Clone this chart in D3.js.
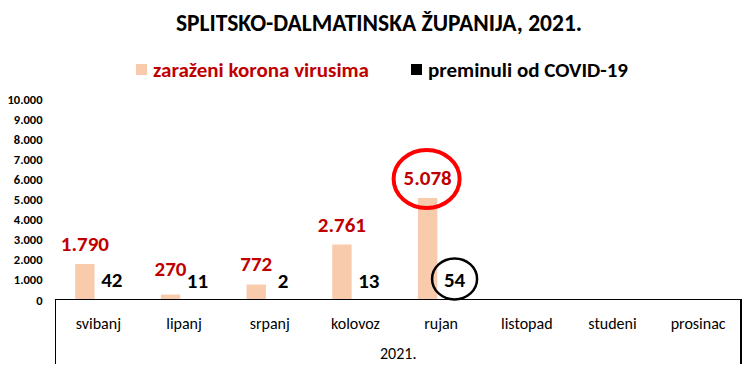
<!DOCTYPE html>
<html>
<head>
<meta charset="utf-8">
<title>Splitsko-dalmatinska županija, 2021.</title>
<script src="https://cdn.jsdelivr.net/npm/d3@7"></script>
<style>
    body { margin: 0; background: #fff; }
    svg { display: block; font-family: Carlito, Lato, sans-serif; }
</style>
</head>
<body>
<svg id="chart" width="751" height="370"></svg>
<script>
// data
const months = ['svibanj', 'lipanj', 'srpanj', 'kolovoz', 'rujan', 'listopad', 'studeni', 'prosinac'];
const cases = [1790, 270, 772, 2761, 5078, null, null, null];
const deaths = [42, 11, 2, 13, 54, null, null, null];
const yTicks = [0, 1000, 2000, 3000, 4000, 5000, 6000, 7000, 8000, 9000, 10000];
const seriesNames = ['zaraženi korona virusima', 'preminuli od COVID-19'];
const yearLabel = '2021.';
const title = 'SPLITSKO-DALMATINSKA ŽUPANIJA, 2021.';

const svg = d3.select('#chart');
const plotLeft = 55.5, plotRight = 741, plotTop = 99, plotBottom = 300;

const fmt = v => d3.format(',')(v).replace(/,/g, '.');

const x0 = d3.scaleBand().domain(months).range([plotLeft, plotRight]).padding(0);
const x1 = d3.scaleBand().domain(['cases', 'deaths'])
    .range([0, x0.bandwidth()]).paddingInner(0.28).paddingOuter(0.73);
const y = d3.scaleLinear().domain([0, 10000]).range([plotBottom, plotTop]);

// title
svg.append('text')
    .attr('x', 379).attr('y', 31)
    .attr('text-anchor', 'middle')
    .attr('font-size', 23.5).attr('font-weight', 'bold')
    .text(title);

// legend
const legend = [
    { name: seriesNames[0], box: '#F8CBAD', text: '#C00000', x: 136 },
    { name: seriesNames[1], box: '#000000', text: '#000000', x: 411 }
];
const lg = svg.append('g').selectAll('g').data(legend).join('g')
    .attr('transform', d => `translate(${d.x},64)`);
lg.append('rect').attr('width', 11).attr('height', 11).attr('fill', d => d.box);
lg.append('text').attr('x', 17).attr('y', 12.5)
    .attr('font-size', 21).attr('font-weight', 'bold')
    .attr('fill', d => d.text)
    .text(d => d.name);

// y axis (labels only)
const yAxis = svg.append('g')
    .attr('transform', `translate(${plotLeft - 13},0)`)
    .call(d3.axisLeft(y).tickValues(yTicks).tickFormat(fmt).tickSize(0).tickPadding(0));
yAxis.select('.domain').remove();
yAxis.selectAll('text')
    .attr('font-family', 'Carlito, Lato, sans-serif')
    .attr('font-size', 12.5).attr('font-weight', 'bold').attr('fill', '#000');

// bars
const rows = months.map((m, i) => ({ month: m, cases: cases[i], deaths: deaths[i] }));
const bw = x1.bandwidth();

svg.append('g').selectAll('rect')
    .data(rows.filter(d => d.cases != null)).join('rect')
    .attr('x', d => x0(d.month) + x1('cases'))
    .attr('y', d => y(d.cases))
    .attr('width', bw)
    .attr('height', d => y(0) - y(d.cases))
    .attr('fill', '#F8CBAD');

svg.append('g').selectAll('rect')
    .data(rows.filter(d => d.deaths != null)).join('rect')
    .attr('x', d => x0(d.month) + x1('deaths'))
    .attr('y', d => y(d.deaths))
    .attr('width', bw)
    .attr('height', d => y(0) - y(d.deaths))
    .attr('fill', '#000');

// data labels
const caseLabelY = d => Math.min(y(d.cases) - 13, 276);
svg.append('g').selectAll('text')
    .data(rows.filter(d => d.cases != null)).join('text')
    .attr('x', d => x0(d.month) + x1('cases') + bw / 2)
    .attr('y', caseLabelY)
    .attr('text-anchor', 'middle')
    .attr('font-size', 21).attr('font-weight', 'bold').attr('fill', '#C00000')
    .text(d => fmt(d.cases));

svg.append('g').selectAll('text')
    .data(rows.filter(d => d.deaths != null)).join('text')
    .attr('x', d => x0(d.month) + x1('deaths') + bw / 2)
    .attr('y', d => y(d.deaths) - 12)
    .attr('text-anchor', 'middle')
    .attr('font-size', 21).attr('font-weight', 'bold').attr('fill', '#000')
    .text(d => fmt(d.deaths));

// highlight circles around the largest values
const maxCase = rows.reduce((a, b) => (b.cases || 0) > (a.cases || 0) ? b : a);
const maxDeath = rows.reduce((a, b) => (b.deaths || 0) > (a.deaths || 0) ? b : a);
svg.append('ellipse')
    .attr('cx', x0(maxCase.month) + x1('cases') + bw / 2 - 1)
    .attr('cy', caseLabelY(maxCase) - 6)
    .attr('rx', 33).attr('ry', 29)
    .attr('fill', 'none').attr('stroke', '#FF0000').attr('stroke-width', 4);
svg.append('ellipse')
    .attr('cx', x0(maxDeath.month) + x1('deaths') + bw / 2)
    .attr('cy', y(maxDeath.deaths) - 12 - 8)
    .attr('rx', 22.5).attr('ry', 20.5)
    .attr('fill', 'none').attr('stroke', '#000').attr('stroke-width', 2.5);

// category axis frame (drawn over the bar bases)
const frame = svg.append('g').attr('stroke', '#000').attr('stroke-width', 1.2).attr('shape-rendering', 'crispEdges');
frame.append('line').attr('x1', plotLeft).attr('x2', plotRight).attr('y1', y(0) - 0.5).attr('y2', y(0) - 0.5);
frame.append('line').attr('x1', plotLeft).attr('x2', plotLeft).attr('y1', y(0) - 1).attr('y2', 364);
frame.append('line').attr('x1', plotRight).attr('x2', plotRight).attr('y1', y(0) - 1).attr('y2', 364);

svg.append('g').selectAll('text')
    .data(months).join('text')
    .attr('x', d => x0(d) + x0.bandwidth() / 2)
    .attr('y', 329)
    .attr('text-anchor', 'middle')
    .attr('font-size', 16).attr('fill', '#000')
    .text(d => d);

svg.append('text')
    .attr('x', (plotLeft + plotRight) / 2).attr('y', 359)
    .attr('text-anchor', 'middle')
    .attr('font-size', 16).attr('fill', '#000')
    .text(yearLabel);
</script>
</body>
</html>
